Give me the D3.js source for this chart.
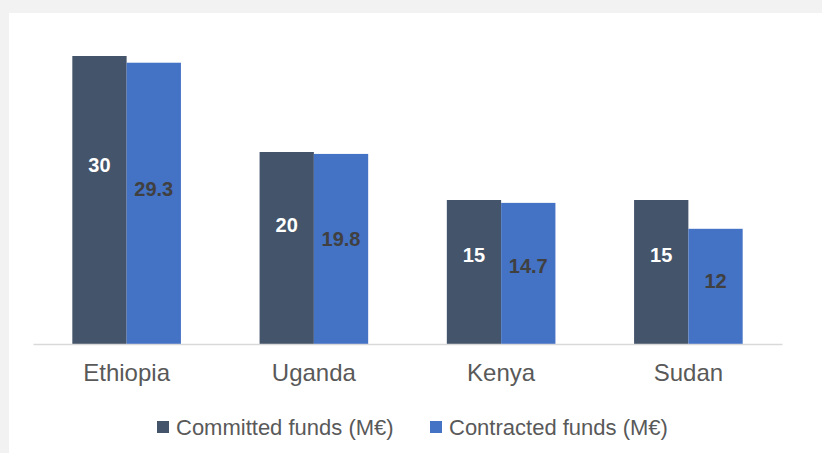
<!DOCTYPE html>
<html>
<head>
<meta charset="utf-8">
<script src="https://cdn.jsdelivr.net/npm/d3@7"></script>
<style>
  html, body { margin: 0; padding: 0; background: #f2f2f2; }
  svg { display: block; font-family: "Liberation Sans", Arial, sans-serif; }
</style>
</head>
<body>
<div id="chart"></div>
<script>
// chart values
const categories = ["Ethiopia", "Uganda", "Kenya", "Sudan"];
const seriesNames = ["Committed funds (M\u20ac)", "Contracted funds (M\u20ac)"];
const committed = [30, 20, 15, 15];
const contracted = [29.3, 19.8, 14.7, 12];

const W = 822, H = 453;
const colors = ["#44546a", "#4472c4"];
const labelColors = ["#ffffff", "#404040"];
// where the value label sits, as a share of bar height from the top
const labelFrac = [0.38, 0.45];

const svg = d3.select("#chart").append("svg")
  .attr("width", W)
  .attr("height", H);

// white plot card, gray edge on top and left
svg.append("rect")
  .attr("x", 9).attr("y", 13)
  .attr("width", W - 9).attr("height", H - 13)
  .attr("fill", "#fff");

const x = d3.scaleBand().domain(categories).range([33, 782])
  .paddingInner(0.42).paddingOuter(0.21);
const xs = d3.scaleBand().domain([0, 1]).range([0, x.bandwidth()]);
const y = d3.scaleLinear().domain([0, 30]).range([344, 56]);

const rows = categories.map((c, i) => ({ cat: c, vals: [committed[i], contracted[i]] }));

const groups = svg.selectAll(".grp")
  .data(rows)
  .enter().append("g")
  .attr("class", "grp")
  .attr("transform", d => "translate(" + x(d.cat) + ",0)");

groups.selectAll("rect")
  .data(d => d.vals.map((v, s) => ({ v: v, s: s })))
  .enter().append("rect")
  .attr("x", d => xs(d.s))
  .attr("y", d => y(d.v))
  .attr("width", xs.bandwidth())
  .attr("height", d => y(0) - y(d.v))
  .attr("fill", d => colors[d.s]);

groups.selectAll("text.val")
  .data(d => d.vals.map((v, s) => ({ v: v, s: s })))
  .enter().append("text")
  .attr("class", "val")
  .attr("x", d => xs(d.s) + xs.bandwidth() / 2)
  .attr("y", d => y(d.v) + (y(0) - y(d.v)) * labelFrac[d.s])
  .attr("dy", "0.35em")
  .attr("text-anchor", "middle")
  .attr("font-size", 20)
  .attr("font-weight", "bold")
  .attr("fill", d => labelColors[d.s])
  .text(d => d.v);

// baseline axis
const axis = svg.append("g")
  .attr("transform", "translate(0," + y(0) + ")")
  .call(d3.axisBottom(x).tickSize(0).tickPadding(20));
axis.select(".domain").attr("stroke", "#d9d9d9").attr("stroke-width", 1.5);
axis.selectAll(".tick text")
  .attr("font-family", "Liberation Sans, Arial, sans-serif")
  .attr("font-size", 24)
  .attr("fill", "#595959");

// legend
const legendX = [157, 430];
const legend = svg.selectAll(".leg")
  .data(seriesNames)
  .enter().append("g")
  .attr("class", "leg")
  .attr("transform", (d, i) => "translate(" + legendX[i] + ",427)");

legend.append("rect")
  .attr("x", 0).attr("y", -6)
  .attr("width", 12).attr("height", 12)
  .attr("fill", (d, i) => colors[i]);

legend.append("text")
  .attr("x", 19)
  .attr("dy", "0.35em")
  .attr("font-size", 22)
  .attr("fill", "#595959")
  .text(d => d);
</script>
</body>
</html>
